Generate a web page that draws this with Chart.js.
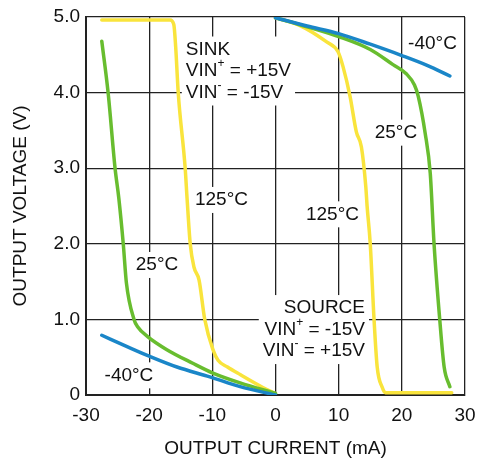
<!DOCTYPE html>
<html>
<head>
<meta charset="utf-8">
<script src="https://cdn.jsdelivr.net/npm/chart.js@4/dist/chart.umd.min.js"></script>
<style>
  html, body { margin: 0; padding: 0; background: #fff; }
  canvas { display: block; }
</style>
</head>
<body>
<canvas id="chart" width="477" height="461"></canvas>
<script>
// Curve data (x = output current in mA, y = output voltage in V)
const sink125X = [-27.5, -16.7, -16.1, -15.8, -15.4, -14.3, -14.0, -13.5, -12.9, -12.1, -11.2, -9.9, -9.1, -7.6, -5.6, -2.0, 0];
const sink125Y = [4.96, 4.96, 4.9, 4.6, 4.0, 3.0, 2.6, 2.0, 1.69, 1.52, 1.0, 0.6, 0.46, 0.37, 0.27, 0.1, 0.02];
const sink25X = [-27.5, -26.5, -25.4, -24.8, -24.1, -23.6, -22.4, -21.8, -20.2, -17.2, -13.1, -9.9, -5.6, 0];
const sink25Y = [4.68, 4.0, 3.0, 2.6, 2.0, 1.48, 1.0, 0.9, 0.77, 0.6, 0.42, 0.29, 0.16, 0.02];
const sinkM40X = [-27.5, -23.5, -19.9, -15.6, -10.4, -5.6, 0];
const sinkM40Y = [0.79, 0.64, 0.51, 0.37, 0.24, 0.11, 0.0];

const src125X = [0, 3.8, 8.1, 9.9, 10.7, 11.8, 12.8, 13.6, 14.3, 14.5, 15.0, 15.6, 16.1, 16.9, 17.4, 27.9];
const src125Y = [4.99, 4.89, 4.67, 4.54, 4.34, 3.95, 3.48, 3.28, 2.75, 2.5, 2.0, 1.0, 0.37, 0.1, 0.03, 0.03];
const src25X = [0, 5, 10, 15, 18.6, 20.7, 22.0, 22.6, 23.7, 24.5, 25.1, 26.0, 26.7, 27.6];
const src25Y = [4.99, 4.87, 4.74, 4.57, 4.37, 4.25, 4.10, 3.95, 3.46, 2.93, 2.0, 1.0, 0.37, 0.11];
const srcM40X = [0, 5, 10, 15, 20, 24, 27.6];
const srcM40Y = [4.99, 4.88, 4.78, 4.64, 4.49, 4.36, 4.22];

// Axis ranges and titles
const xTicks = [-30, -20, -10, 0, 10, 20, 30];
const yTicks = ['0', '1.0', '2.0', '3.0', '4.0', '5.0'];
const xTitle = 'OUTPUT CURRENT (mA)';
const yTitle = 'OUTPUT VOLTAGE (V)';

// Text annotations ('^' marks a superscript character)
const notes = [
  { x: -14.2, y: 4.57, align: 'left', lines: ['SINK', 'VIN^+ = +15V', 'VIN^- = -15V'] },
  { x: 14.17, y: 1.15, align: 'right', lines: ['SOURCE', 'VIN^+ = -15V', 'VIN^- = +15V'] },
  { x: 24.85, y: 4.64, align: 'center', lines: ['-40°C'] },
  { x: 19.07, y: 3.47, align: 'center', lines: ['25°C'] },
  { x: 9.02, y: 2.39, align: 'center', lines: ['125°C'] },
  { x: -8.55, y: 2.58, align: 'center', lines: ['125°C'] },
  { x: -18.76, y: 1.72, align: 'center', lines: ['25°C'] },
  { x: -23.2, y: 0.26, align: 'center', lines: ['-40°C'] }
];

const FONT = '"Liberation Sans", Arial, Helvetica, sans-serif';
const YELLOW = '#f9e43c';
const GREEN = '#68bd2f';
const BLUE = '#1a86c8';

const toPoints = (xs, ys) => xs.map((x, i) => ({ x: x, y: ys[i] }));

function curve(xs, ys, color) {
  return {
    data: toPoints(xs, ys),
    borderColor: color,
    backgroundColor: color,
    borderWidth: 3.5,
    borderCapStyle: 'round',
    borderJoinStyle: 'round',
    pointRadius: 0,
    showLine: true,
    cubicInterpolationMode: 'monotone'
  };
}

// Rich text helpers for superscripts
function parts(line) {
  const segs = line.split('^');
  const out = [{ t: segs[0], sup: false }];
  for (let i = 1; i < segs.length; i++) {
    out.push({ t: segs[i][0], sup: true });
    out.push({ t: segs[i].slice(1), sup: false });
  }
  return out;
}

function measureRich(ctx, line) {
  let w = 0;
  parts(line).forEach(p => {
    ctx.font = (p.sup ? '12px ' : '19px ') + FONT;
    w += ctx.measureText(p.t).width;
  });
  return w;
}

function drawRich(ctx, line, x, y) {
  let cx = x;
  parts(line).forEach(p => {
    ctx.font = (p.sup ? '12px ' : '19px ') + FONT;
    ctx.fillText(p.t, cx, p.sup ? y - 7 : y);
    cx += ctx.measureText(p.t).width;
  });
}

const notePlugin = {
  id: 'notes',
  beforeDatasetsDraw(chart) {
    const { ctx, scales: { x, y } } = chart;
    const gap = 21.5;
    ctx.save();
    ctx.textBaseline = 'middle';
    ctx.textAlign = 'left';
    notes.forEach(n => {
      const px = x.getPixelForValue(n.x);
      const py = y.getPixelForValue(n.y);
      const widths = n.lines.map(l => measureRich(ctx, l));
      const w = Math.max(...widths);
      const left = n.align === 'left' ? px : n.align === 'right' ? px - w : px - w / 2;
      const h = (n.lines.length - 1) * gap;
      ctx.fillStyle = '#fff';
      ctx.fillRect(left - 4, py - 13, w + 8, h + 26);
      ctx.fillStyle = '#111';
      n.lines.forEach((l, i) => {
        const lw = widths[i];
        const lx = n.align === 'left' ? px : n.align === 'right' ? px - lw : px - lw / 2;
        drawRich(ctx, l, lx, py + i * gap);
      });
    });
    ctx.restore();
  }
};

new Chart(document.getElementById('chart'), {
  type: 'scatter',
  data: {
    datasets: [
      curve(sinkM40X, sinkM40Y, BLUE),
      curve(srcM40X, srcM40Y, BLUE),
      curve(sink25X, sink25Y, GREEN),
      curve(src25X, src25Y, GREEN),
      curve(sink125X, sink125Y, YELLOW),
      curve(src125X, src125Y, YELLOW)
    ]
  },
  options: {
    responsive: false,
    animation: false,
    layout: { padding: { top: 17, right: 12, left: 0, bottom: 0 } },
    plugins: {
      legend: { display: false },
      tooltip: { enabled: false }
    },
    scales: {
      x: {
        type: 'linear',
        min: xTicks[0],
        max: xTicks[xTicks.length - 1],
        afterBuildTicks: s => { s.ticks = xTicks.map(v => ({ value: v })); },
        afterFit: s => {
          s.height = 66;
          s.paddingLeft = 0;
          s.paddingRight = 0;
        },
        ticks: {
          color: '#111',
          padding: 9,
          maxRotation: 0,
          autoSkip: false,
          font: { family: FONT, size: 19 },
          callback: v => String(v)
        },
        grid: { color: '#222', lineWidth: 1.3, drawTicks: false },
        border: { color: '#222', width: 2 },
        title: {
          display: true,
          text: xTitle,
          color: '#111',
          padding: { top: 0, bottom: 1 },
          font: { family: FONT, size: 19 }
        }
      },
      y: {
        type: 'linear',
        min: 0,
        max: 5,
        afterBuildTicks: s => { s.ticks = yTicks.map(v => ({ value: parseFloat(v) })); },
        afterFit: s => {
          s.width = 86;
          s.paddingTop = 0;
          s.paddingBottom = 0;
        },
        ticks: {
          color: '#111',
          padding: 6,
          font: { family: FONT, size: 19 },
          callback: (v, i) => yTicks[i]
        },
        grid: { color: '#222', lineWidth: 1.3, drawTicks: false },
        border: { color: '#222', width: 2 },
        title: {
          display: true,
          text: yTitle,
          color: '#111',
          padding: { top: 9, bottom: 0 },
          font: { family: FONT, size: 19 }
        }
      }
    }
  },
  plugins: [notePlugin]
});
</script>
</body>
</html>
